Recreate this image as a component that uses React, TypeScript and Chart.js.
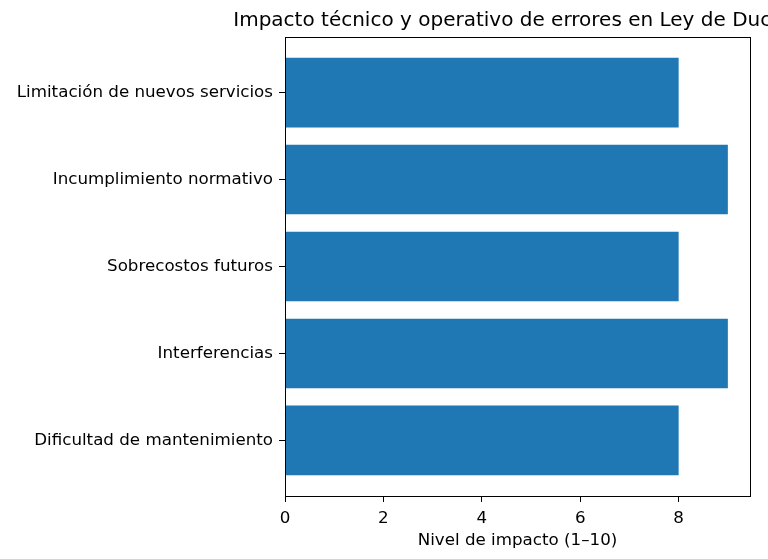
import React, { useEffect, useRef } from "react";
import { Chart, registerables } from "chart.js";

Chart.register(...registerables);

const categories = [
  "Dificultad de mantenimiento",
  "Interferencias",
  "Sobrecostos futuros",
  "Incumplimiento normativo",
  "Limitación de nuevos servicios",
];
const impactValues = [8, 9, 8, 9, 8];
const xTicks = [0, 2, 4, 6, 8];
const chartTitle = "Impacto técnico y operativo de errores en Ley de Ductos";
const xAxisLabel = "Nivel de impacto (1–10)";

const FONT = "'DejaVu Sans', sans-serif";

const framePlugin = {
  id: "frameAndTitle",
  afterDatasetsDraw(chart: any) {
    const { ctx, chartArea } = chart;
    ctx.save();
    ctx.strokeStyle = "#000";
    ctx.lineWidth = 1;
    ctx.strokeRect(
      Math.round(chartArea.left) + 0.5,
      Math.round(chartArea.top) + 0.5,
      Math.round(chartArea.right - chartArea.left),
      Math.round(chartArea.bottom - chartArea.top)
    );
    ctx.restore();
  },
  afterDraw(chart: any) {
    const { ctx, chartArea } = chart;
    ctx.save();
    ctx.fillStyle = "#000";
    ctx.font = `20px ${FONT}`;
    ctx.textAlign = "center";
    ctx.textBaseline = "alphabetic";
    ctx.fillText(chartTitle, (chartArea.left + chartArea.right) / 2, 26);
    ctx.restore();
  },
};

export default function App() {
  const ref = useRef<HTMLCanvasElement>(null);
  useEffect(() => {
    document.body.style.margin = "0";
    const data = impactValues.map((v, i) => ({ x: v, y: i }));
    const chart = new Chart(ref.current!, {
      type: "bar",
      data: {
        datasets: [
          {
            data: data as any,
            backgroundColor: "#1f77b4",
            borderWidth: 0,
            barPercentage: 0.8,
            categoryPercentage: 1,
          },
        ],
      },
      options: {
        indexAxis: "y",
        animation: false,
        responsive: false,
        layout: { padding: { top: 37, right: 18, left: 0, bottom: 0 } },
        plugins: { legend: { display: false }, tooltip: { enabled: false } },
        scales: {
          y: {
            type: "linear",
            min: -0.64,
            max: 4.64,
            offset: false,
            afterBuildTicks(scale: any) {
              scale.ticks = categories.map((_, i) => ({ value: i }));
            },
            afterFit(scale: any) {
              scale.width = 285;
            },
            ticks: {
              callback: (v: any) => categories[v as number] ?? "",
              color: "#000",
              font: { family: FONT, size: 16.7 },
              padding: 6,
              autoSkip: false,
            },
            grid: {
              drawOnChartArea: false,
              offset: false,
              color: "#000",
              tickLength: 6,
              tickWidth: 1,
            },
            border: { display: true, color: "#000", width: 1 },
          },
          x: {
            type: "linear",
            min: 0,
            max: 9.45,
            afterBuildTicks(scale: any) {
              scale.ticks = xTicks.map((v) => ({ value: v }));
            },
            afterFit(scale: any) {
              scale.height = 63;
            },
            ticks: {
              color: "#000",
              font: { family: FONT, size: 16.7 },
              padding: 7,
              maxRotation: 0,
            },
            grid: {
              drawOnChartArea: false,
              color: "#000",
              tickLength: 6,
              tickWidth: 1,
            },
            border: { display: true, color: "#000", width: 1 },
            title: {
              display: true,
              text: xAxisLabel,
              color: "#000",
              font: { family: FONT, size: 16.7 },
              padding: { top: 4, bottom: 8.5 },
            },
          },
        },
      },
      plugins: [framePlugin],
    });
    return () => chart.destroy();
  }, []);
  return <canvas ref={ref} width={768} height={559} style={{ display: "block" }} />;
}
